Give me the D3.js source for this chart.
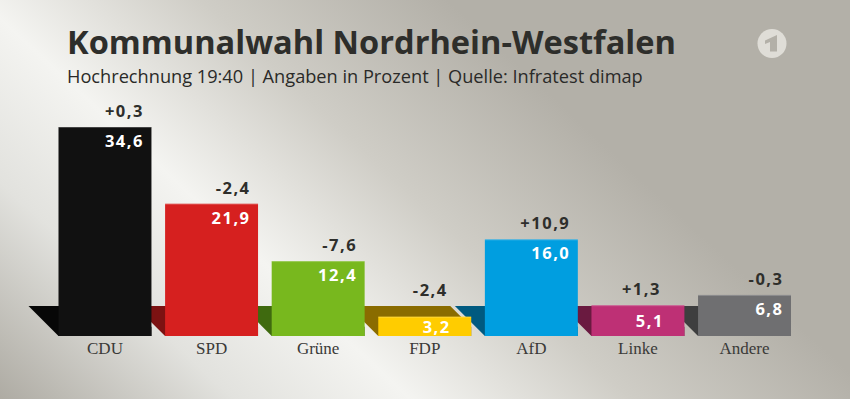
<!DOCTYPE html>
<html>
<head>
<meta charset="utf-8">
<script src="https://cdn.jsdelivr.net/npm/d3@7/dist/d3.min.js"></script>
<style>
  html, body { margin: 0; padding: 0; background: #b3b0a8; }
  svg { display: block; }
</style>
</head>
<body>
<svg id="chart" width="850" height="399"></svg>
<script>
// ---- data ----
const parties = ["CDU", "SPD", "Grüne", "FDP", "AfD", "Linke", "Andere"];
const shares  = [34.6, 21.9, 12.4, 3.2, 16.0, 5.1, 6.8];
const changes = [0.3, -2.4, -7.6, -2.4, 10.9, 1.3, -0.3];
const barColors    = ["#111111", "#d6201f", "#78b81e", "#ffcc00", "#009ee0", "#be3075", "#6f6f71"];
const shadowColors = ["#070707", "#7c1212", "#3f6a0f", "#8a6c00", "#005a80", "#6a1a40", "#3e3e3f"];
const titleText = "Kommunalwahl Nordrhein-Westfalen";
const subtitleText = "Hochrechnung 19:40 | Angaben in Prozent | Quelle: Infratest dimap";

const fmt = v => v.toFixed(1).replace(".", ",");
const fmtChange = v => (v > 0 ? "+" : "") + fmt(v);

const svg = d3.select("#chart");
const W = 850, H = 399;

// ---- background ----
const defs = svg.append("defs");
const bg = defs.append("linearGradient").attr("id", "bg")
  .attr("gradientUnits", "userSpaceOnUse")
  .attr("x1", -30).attr("y1", 375).attr("x2", 378).attr("y2", -65);
[[0, "#adaaa2"], [0.27, "#e2e2de"], [0.47, "#f4f4f1"], [0.72, "#cfcdc6"], [1, "#b3b0a8"]]
  .forEach(([o, c]) => bg.append("stop").attr("offset", o).attr("stop-color", c));
svg.append("rect").attr("width", W).attr("height", H).attr("fill", "url(#bg)");

// ---- title ----
function fitText(sel, target) {
  const len = sel.node().getComputedTextLength();
  const fs = parseFloat(sel.attr("font-size"));
  sel.attr("font-size", fs * target / len);
}
const title = svg.append("text").attr("x", 67).attr("y", 54)
  .attr("font-family", "'Open Sans', sans-serif").attr("font-weight", 700)
  .attr("font-size", 32).attr("fill", "#2e2e2b").text(titleText);
fitText(title, 609);
const sub = svg.append("text").attr("x", 67).attr("y", 83)
  .attr("font-family", "'Open Sans', sans-serif").attr("font-weight", 400)
  .attr("font-size", 18).attr("fill", "#2a2a28").text(subtitleText);
fitText(sub, 576);

// ---- logo ----
const logo = svg.append("g").attr("transform", "translate(772,43.5)");
logo.append("circle").attr("r", 14.5).attr("fill", "#dfddd7");
logo.append("path").attr("d", "M-7,-3 L5,-8.5 L5,8 L-2,8 L-2,-1.5 L-7,0.5 Z").attr("fill", "#b3b0a8");

// ---- scales ----
const baseY = 336;
const x = d3.scaleBand().domain(parties).range([58.5, 791]).paddingInner(0.128).paddingOuter(0);
const y = d3.scaleLinear().domain([0, 34.6]).range([baseY, 127]);
const shadowTop = baseY - 30, shadowDx = 30, tilt = 21;

const data = parties.map((p, i) => ({ p, v: shares[i], c: changes[i], col: barColors[i], sh: shadowColors[i] }));
const isShort = d => baseY - y(d.v) < 32;

const g = svg.append("g");
// shadows (all behind bars)
g.selectAll(".shadow").data(data).enter().append("path")
  .attr("d", d => {
    const x0 = x(d.p), x1 = x0 + x.bandwidth();
    return `M${x0 - shadowDx},${shadowTop} L${x1 - tilt},${shadowTop} L${x1},${shadowTop + tilt} L${x1},${baseY} L${x0},${baseY} Z`;
  })
  .attr("fill", d => d.sh);
// bars
g.selectAll(".bar").data(data).enter().append("rect")
  .attr("x", d => x(d.p)).attr("y", d => y(d.v))
  .attr("width", x.bandwidth()).attr("height", d => baseY - y(d.v))
  .attr("fill", d => d.col);
g.selectAll(".edge").data(data).enter().append("line")
  .attr("x1", d => x(d.p)).attr("x2", d => x(d.p) + x.bandwidth())
  .attr("y1", d => y(d.v) + 0.5).attr("y2", d => y(d.v) + 0.5)
  .attr("stroke", "rgba(255,255,255,0.22)").attr("stroke-width", 1);

// value labels
const ls = 1.5;
g.selectAll(".val").data(data).enter().append("text")
  .attr("x", d => x(d.p) + x.bandwidth() - (isShort(d) ? 22 : 9) + ls)
  .attr("y", d => isShort(d) ? (y(d.v) + baseY) / 2 + 6.5 : y(d.v) + 20)
  .attr("text-anchor", "end")
  .attr("font-family", "'Open Sans', sans-serif").attr("font-weight", 700)
  .attr("font-size", 16.5).attr("letter-spacing", ls)
  .attr("fill", "#ffffff").text(d => fmt(d.v));

// change labels
g.selectAll(".chg").data(data).enter().append("text")
  .attr("x", d => x(d.p) + x.bandwidth() - (isShort(d) ? 25 : 9) + ls)
  .attr("y", d => Math.min(y(d.v), shadowTop) - 10)
  .attr("text-anchor", "end")
  .attr("font-family", "'Open Sans', sans-serif").attr("font-weight", 700)
  .attr("font-size", 16.5).attr("letter-spacing", ls)
  .attr("fill", "#2e2e2b").text(d => fmtChange(d.c));

// category labels
g.selectAll(".cat").data(data).enter().append("text")
  .attr("x", d => x(d.p) + x.bandwidth() / 2)
  .attr("y", 354)
  .attr("text-anchor", "middle")
  .attr("font-family", "'Liberation Serif', serif")
  .attr("font-size", 17).attr("fill", "#3a3a38").text(d => d.p);
</script>
</body>
</html>
